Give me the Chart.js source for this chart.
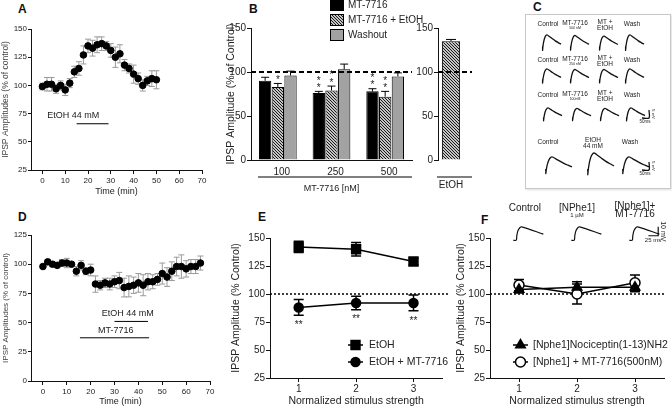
<!DOCTYPE html>
<html>
<head>
<meta charset="utf-8">
<script src="https://cdn.jsdelivr.net/npm/chart.js@4.4.1/dist/chart.umd.min.js"></script>
<style>
  body { margin: 0; width: 672px; height: 412px; position: relative; overflow: hidden; background: #fff;
         font-family: "Liberation Sans", Arial, sans-serif; }
  canvas { position: absolute; }
  .lt { position: absolute; font-weight: bold; font-size: 12px; color: #111; line-height: 12px; }
  #boxC { position: absolute; left: 525px; top: 14px; width: 144px; height: 173px;
          border: 1px solid #c8c8c8; box-shadow: 1px 1px 2px #ddd; }
</style>
</head>
<body>
<div class="lt" style="left:18px;top:3px">A</div>
<div class="lt" style="left:249px;top:3px">B</div>
<div class="lt" style="left:533px;top:1px">C</div>
<div class="lt" style="left:18px;top:211px">D</div>
<div class="lt" style="left:258px;top:211px">E</div>
<div class="lt" style="left:481px;top:214px">F</div>
<div id="boxC"></div>
<script>
// ---- A: EtOH 44 mM alone (time course)
const timeA = [0,2,4,6,8,10,12,14,16,18,20,22,24,26,28,30,32,34,36,38,40,42,44,46,48,50];
const ipspA = [99,101,101,97,100,96,102,112,115,127,135,133,136,137,135,131,125,128,118,115,110,106,100,104,106,105];
const semA  = [3,6,6,4,4,5,4,5,6,8,6,7,7,6,4,6,9,8,5,4,8,5,5,4,7,8];
const etohA = [15, 29];

// ---- B: MT-7716 concentrations
const concB = ['100', '250', '500'];
const mtB = [90, 76, 78];         const mtSemB = [4, 2, 3];
const mtEtohB = [83, 79, 72];     const mtEtohSemB = [4, 5, 6];
const washB = [96, 103, 95];      const washSemB = [5, 6, 4];
const starsMtB = [0, 2, 2];
const starsMtEtohB = [1, 2, 2];
const etohB = [135];              const etohSemB = [2];

// ---- D: MT-7716 then EtOH (time course)
const timeD = [0,2,4,6,8,10,12,14,16,18,20,22,24,26,28,30,32,34,36,38,40,42,44,46,48,50,52,54,56,58,60,62,64,66];
const ipspD = [98,102,100,99,101,101,100,94,99,94,95,83,82,84,83,85,86,80,81,82,84,82,85,85,87,92,89,94,98,98,96,98,98,101];
const semD  = [1,2,2,2,3,4,1,4,4,3,5,7,4,4,5,5,7,8,9,7,8,9,7,6,5,9,8,8,8,10,7,6,6,6];
const mtD = [15.5, 44.5];
const etohD = [30, 44];

// ---- E: stimulus strength
const stim = [1, 2, 3];
const etohE = [142, 140, 129];    const etohSemE = [5, 6, 3];
const etohMtE = [88, 92, 92];     const etohMtSemE = [7, 6, 7];

// ---- F: [Nphe1] controls
const nphe1F = [104, 106, 106];   const nphe1SemF = [3, 5, 4];
const nphe1MtF = [108, 100, 110]; const nphe1MtSemF = [5, 9, 7];

// ---- example IPSP trace shapes (normalised time, normalised amplitude)
const traceC = [[0,0],[0.03,0],[0.03,-0.28],[0.05,0.05],[0.09,0.45],[0.15,0.8],[0.22,0.98],[0.28,1],[0.4,0.86],[0.55,0.68],[0.7,0.51],[0.85,0.37],[1,0.24]];
const traceF = [[0,0],[0.1,0],[0.12,0.35],[0.16,0.72],[0.22,0.93],[0.28,1],[1,0.45]];
const ampC = [[1,0.95,0.9,1],[1,0.95,0.95,1],[1,0.95,0.95,1],[1,1.3,1]];

Chart.defaults.font.family = '"Liberation Sans", Arial, sans-serif';
Chart.defaults.color = '#222';
Chart.defaults.animation = false;
Chart.defaults.plugins.legend.display = false;
Chart.defaults.plugins.tooltip.enabled = false;

function mk(left, top, w, h) {
  const c = document.createElement('canvas');
  c.width = w; c.height = h;
  c.style.left = left + 'px'; c.style.top = top + 'px';
  c.style.width = w + 'px'; c.style.height = h + 'px';
  document.body.appendChild(c);
  return c.getContext('2d');
}

function linAxis(o) {
  return {
    type: 'linear', min: o.min, max: o.max,
    afterBuildTicks: s => { s.ticks = o.ticks.map(v => ({ value: v })); },
    afterFit: s => { if (s.isHorizontal()) s.height = o.size; else s.width = o.size; },
    border: { color: '#111', width: 1 },
    grid: { drawOnChartArea: false, tickLength: o.tick ?? 4, tickColor: '#111' },
    ticks: { font: { size: o.fs }, color: '#222', padding: o.pad ?? 2, maxRotation: 0, autoSkip: false },
    title: o.title ? { display: true, text: o.title, font: { size: o.tfs }, color: o.tcol || '#222',
                       padding: { top: o.tpad, bottom: o.tpad } } : { display: false }
  };
}

const errorBars = {
  id: 'errorBars',
  beforeDatasetsDraw(chart) {
    const ctx = chart.ctx;
    chart.data.datasets.forEach((ds, i) => {
      if (!ds.errors) return;
      const meta = chart.getDatasetMeta(i);
      const ys = chart.scales[meta.yAxisID];
      ctx.save();
      ctx.strokeStyle = ds.errorColor || '#000';
      ctx.lineWidth = ds.errorWidth || 1;
      meta.data.forEach((el, j) => {
        const raw = ds.data[j];
        const v = typeof raw === 'object' ? raw.y : raw;
        const e = ds.errors[j];
        const yt = ys.getPixelForValue(v + e);
        const yb = ys.getPixelForValue(ds.errorUpOnly ? v : v - e);
        const c = (ds.capWidth || 6) / 2;
        ctx.beginPath();
        ctx.moveTo(el.x, yt); ctx.lineTo(el.x, yb);
        ctx.moveTo(el.x - c, yt); ctx.lineTo(el.x + c, yt);
        if (!ds.errorUpOnly) { ctx.moveTo(el.x - c, yb); ctx.lineTo(el.x + c, yb); }
        ctx.stroke();
      });
      ctx.restore();
    });
  }
};

function hline(ctx, x0, x1, y, dash, w) {
  ctx.save();
  ctx.strokeStyle = '#000'; ctx.lineWidth = w; ctx.setLineDash(dash);
  ctx.beginPath(); ctx.moveTo(x0, y); ctx.lineTo(x1, y); ctx.stroke();
  ctx.restore();
}
function text(ctx, s, x, y, size, align, rot) {
  ctx.save();
  ctx.fillStyle = '#222';
  ctx.font = size + 'px "Liberation Sans", Arial, sans-serif';
  ctx.textAlign = align || 'center'; ctx.textBaseline = 'middle';
  ctx.translate(x, y);
  if (rot) ctx.rotate(rot);
  ctx.fillText(s, 0, 0);
  ctx.restore();
}
const xy = (xs, ys) => xs.map((x, i) => ({ x: x, y: ys[i] }));

// ================= A =================
new Chart(mk(0, 0, 215, 200), {
  type: 'scatter',
  data: { datasets: [{
    data: xy(timeA, ipspA), errors: semA, errorColor: '#9a9a9a', capWidth: 6,
    pointRadius: 3.3, backgroundColor: '#000', borderColor: '#000'
  }] },
  options: {
    responsive: false, devicePixelRatio: 1,
    layout: { padding: { top: 29, right: 13, left: 0, bottom: 0 } },
    scales: {
      x: linAxis({ min: -5, max: 70, ticks: [0,10,20,30,40,50,60,70], size: 30, fs: 8, pad: 2,
                   title: 'Time (min)', tfs: 9, tpad: 3 }),
      y: linAxis({ min: 25, max: 150, ticks: [25,50,75,100,125,150], size: 31, fs: 8, pad: 1, tick: 3,
                   title: 'IPSP Amplitudes (% of control)', tfs: 8.5, tpad: 1, tcol: '#444' })
    }
  },
  plugins: [errorBars, {
    id: 'annA',
    afterDraw(c) {
      const x = c.scales.x, y = c.scales.y;
      hline(c.ctx, x.getPixelForValue(etohA[0]), x.getPixelForValue(etohA[1]), y.getPixelForValue(66), [], 1);
      text(c.ctx, 'EtOH 44 mM', x.getPixelForValue(13.5), y.getPixelForValue(73), 9);
    }
  }]
});

// ================= B (MT-7716) =================
const hatch = (() => {
  const p = document.createElement('canvas'); p.width = 3; p.height = 3;
  const g = p.getContext('2d');
  g.fillStyle = '#c4c4c4'; g.fillRect(0, 0, 3, 3);
  g.fillStyle = '#1a1a1a';
  g.fillRect(0, 0, 1, 1); g.fillRect(1, 1, 1, 1); g.fillRect(2, 2, 1, 1);
  return g.createPattern(p, 'repeat');
})();

function stars(c, dsIndex, counts) {
  const meta = c.getDatasetMeta(dsIndex), ds = c.data.datasets[dsIndex], y = c.scales.y;
  meta.data.forEach((el, j) => {
    const top = y.getPixelForValue(ds.data[j] + ds.errors[j]);
    for (let k = 0; k < counts[j]; k++) text(c.ctx, '*', el.x, top - 3 - k * 7.5, 10);
  });
}

new Chart(mk(215, 0, 210, 200), {
  type: 'bar',
  data: {
    labels: concB,
    datasets: [
      { label: 'MT-7716', data: mtB, errors: mtSemB, errorUpOnly: true, capWidth: 8,
        backgroundColor: '#000', borderColor: '#000', borderWidth: 1 },
      { label: 'MT-7716 + EtOH', data: mtEtohB, errors: mtEtohSemB, errorUpOnly: true, capWidth: 8,
        backgroundColor: hatch, borderColor: '#000', borderWidth: 1 },
      { label: 'Washout', data: washB, errors: washSemB, errorUpOnly: true, capWidth: 8,
        backgroundColor: '#a2a2a2', borderColor: '#000', borderWidth: 1 }
    ]
  },
  options: {
    responsive: false, devicePixelRatio: 1,
    categoryPercentage: 0.71, barPercentage: 0.97,
    layout: { padding: { top: 28, right: 13, left: 0, bottom: 0 } },
    scales: {
      x: { type: 'category',
           afterFit: s => { s.height = 40; },
           border: { display: true, color: '#111' }, grid: { display: false, drawTicks: false },
           ticks: { font: { size: 10 }, color: '#222', padding: 6, labelOffset: 4 },
           title: { display: true, text: 'MT-7716 [nM]', font: { size: 9 }, color: '#222', padding: { top: 6, bottom: 6 } } },
      y: linAxis({ min: 0, max: 150, ticks: [0,50,100,150], size: 36, fs: 10, pad: 1, tick: 4,
                   title: 'IPSP Amplitude (% of Control)', tfs: 10.5, tpad: 10 })
    }
  },
  plugins: [errorBars, {
    id: 'annB',
    afterDraw(c) {
      const a = c.chartArea, y = c.scales.y, ctx = c.ctx;
      hline(ctx, a.left, a.right, y.getPixelForValue(100), [5, 3], 2);
      hline(ctx, 43, 197, 177, [], 1);
      stars(c, 0, starsMtB);
      stars(c, 1, starsMtEtohB);
      c.data.datasets.forEach((ds, i) => {
        const ty = 5 + i * 15;
        ctx.save();
        ctx.fillStyle = ds.backgroundColor; ctx.strokeStyle = '#000'; ctx.lineWidth = 1;
        ctx.fillRect(115.5, ty - 5.5, 13, 11); ctx.strokeRect(115.5, ty - 5.5, 13, 11);
        ctx.restore();
        text(ctx, ds.label, 133, ty, 10, 'left');
      });
    }
  }]
});

// ================= B (EtOH) =================
new Chart(mk(410, 0, 70, 200), {
  type: 'bar',
  data: { labels: ['EtOH'], datasets: [
    { data: etohB, errors: etohSemB, errorUpOnly: true, capWidth: 10,
      backgroundColor: hatch, borderColor: '#000', borderWidth: 1 }
  ] },
  options: {
    responsive: false, devicePixelRatio: 1,
    categoryPercentage: 1, barPercentage: 0.7,
    layout: { padding: { top: 28, right: 16, left: 0, bottom: 0 } },
    scales: {
      x: { type: 'category', afterFit: s => { s.height = 40; },
           border: { display: false }, grid: { display: false, drawTicks: false },
           ticks: { display: false },
           title: { display: true, text: 'EtOH', font: { size: 10 }, color: '#222', padding: { top: 0, bottom: 9 } } },
      y: linAxis({ min: 0, max: 150, ticks: [0,50,100,150], size: 28, fs: 10, pad: 1, tick: 4 })
    }
  },
  plugins: [errorBars, {
    id: 'annB2',
    afterDraw(c) {
      const a = c.chartArea;
      hline(c.ctx, a.left, a.right + 8, c.scales.y.getPixelForValue(100), [5, 3], 2);
      hline(c.ctx, a.left - 1, a.right + 8, 177, [], 1);
    }
  }]
});

// ================= C (example traces) =================
const cRows = [
  { ly: 9,   base: 32,  h: 12, w: 19, xs: [16, 44, 73, 99], lx: [22, 49, 79, 106],
    labels: [['Control'], ['MT-7716', '500 nM'], ['MT +', 'EtOH'], ['Wash']] },
  { ly: 45,  base: 65,  h: 11, w: 19, xs: [16, 44, 73, 99], lx: [22, 49, 79, 106],
    labels: [['Control'], ['MT-7716', '250 nM'], ['MT +', 'EtOH'], ['Wash']] },
  { ly: 80,  base: 103, h: 10, w: 19, xs: [17, 46, 74, 100], lx: [22, 49, 79, 106],
    labels: [['Control'], ['MT-7716', '100nM'], ['MT +', 'EtOH'], ['Wash']], bar: { x: 123, y: 103, h: 8, w: 7 } },
  { ly: 127, base: 155, h: 13, w: 27, xs: [19, 61, 96], lx: [22, 67, 104],
    labels: [['Control'], ['EtOH', '44 mM'], ['Wash']], bar: { x: 123, y: 155, h: 8, w: 7 } }
];
const cSets = [];
cRows.forEach((r, ri) => {
  r.xs.forEach((x0, k) => {
    cSets.push({ data: traceC.map(([t, v]) => ({ x: x0 + t * r.w, y: r.base - v * r.h * ampC[ri][k] })) });
  });
  if (r.bar) cSets.push({ data: [{ x: r.bar.x, y: r.bar.y - r.bar.h }, { x: r.bar.x, y: r.bar.y }, { x: r.bar.x - r.bar.w, y: r.bar.y }] });
});
new Chart(mk(526, 15, 144, 173), {
  type: 'scatter',
  data: { datasets: cSets.map(d => Object.assign(d, { showLine: true, pointRadius: 0, borderColor: '#111', borderWidth: 1.3, tension: 0.3 })) },
  options: {
    responsive: false, devicePixelRatio: 1,
    layout: { padding: 0 },
    scales: { x: { display: false, min: 0, max: 144 }, y: { display: false, min: 0, max: 173, reverse: true } }
  },
  plugins: [{
    id: 'annC',
    afterDraw(c) {
      const ctx = c.ctx, X = v => c.scales.x.getPixelForValue(v), Y = v => c.scales.y.getPixelForValue(v);
      cRows.forEach(r => {
        r.labels.forEach((lab, k) => {
          if (lab.length === 1) text(ctx, lab[0], X(r.lx[k]), Y(r.ly), 6.5);
          else if (lab[0].startsWith('MT-')) { text(ctx, lab[0], X(r.lx[k]), Y(r.ly - 1), 6.5); text(ctx, lab[1], X(r.lx[k]), Y(r.ly + 4.5), 3.5); }
          else { text(ctx, lab[0], X(r.lx[k]), Y(r.ly - 2), 6.5); text(ctx, lab[1], X(r.lx[k]), Y(r.ly + 4.5), 6.5); }
        });
        if (r.bar) {
          text(ctx, '50ms', X(r.bar.x - 4), Y(r.bar.y + 4), 4.5);
          text(ctx, '5 mV', X(r.bar.x + 4), Y(r.bar.y - 4), 4, 'center', Math.PI / 2);
        }
      });
    }
  }]
});

// ================= D =================
new Chart(mk(0, 200, 225, 212), {
  type: 'scatter',
  data: { datasets: [{
    data: xy(timeD, ipspD), errors: semD, errorColor: '#9a9a9a', capWidth: 6,
    pointRadius: 3.3, backgroundColor: '#000', borderColor: '#000'
  }] },
  options: {
    responsive: false, devicePixelRatio: 1,
    layout: { padding: { top: 35, right: 15, left: 0, bottom: 0 } },
    scales: {
      x: linAxis({ min: -5, max: 70, ticks: [0,10,20,30,40,50,60,70], size: 31, fs: 8, pad: 2,
                   title: 'Time (min)', tfs: 9, tpad: 5 }),
      y: linAxis({ min: 0, max: 125, ticks: [0,25,50,75,100,125], size: 31, fs: 8, pad: 1, tick: 3,
                   title: 'IPSP Amplitudes (% of control)', tfs: 8, tpad: 1, tcol: '#444' })
    }
  },
  plugins: [errorBars, {
    id: 'annD',
    afterDraw(c) {
      const x = c.scales.x, y = c.scales.y;
      hline(c.ctx, x.getPixelForValue(etohD[0]), x.getPixelForValue(etohD[1]), y.getPixelForValue(51), [], 1);
      text(c.ctx, 'EtOH 44 mM', x.getPixelForValue(35.5), y.getPixelForValue(57.5), 9);
      hline(c.ctx, x.getPixelForValue(mtD[0]), x.getPixelForValue(mtD[1]), y.getPixelForValue(37), [], 1);
      text(c.ctx, 'MT-7716', x.getPixelForValue(30.5), y.getPixelForValue(43.5), 9);
    }
  }]
});

// ================= E / F =================
function legendItems(c, items, x0, x1, tx, ys) {
  const ctx = c.ctx;
  items.forEach((ds, i) => {
    ctx.save();
    ctx.strokeStyle = '#000'; ctx.lineWidth = 1.5;
    ctx.beginPath(); ctx.moveTo(x0, ys[i]); ctx.lineTo(x1, ys[i]); ctx.stroke();
    ctx.fillStyle = ds.backgroundColor; ctx.lineWidth = ds.borderWidth || 1.5;
    Chart.helpers.drawPoint(ctx, { pointStyle: ds.pointStyle, radius: ds.pointRadius, borderWidth: ds.borderWidth || 1.5, rotation: 0 }, (x0 + x1) / 2, ys[i]);
    ctx.restore();
    text(ctx, ds.label, tx, ys[i], 10.5, 'left');
  });
}
function stimAxes(yWidth) {
  return {
    x: linAxis({ min: 0.5, max: 3.5, ticks: [1,2,3], size: 34, fs: 10, pad: 1, tick: 4,
                 title: 'Normalized stimulus strength', tfs: 10.5, tpad: 5 }),
    y: linAxis({ min: 25, max: 150, ticks: [25,50,75,100,125,150], fs: 10, pad: 1, tick: 4,
                 title: 'IPSP Amplitude (% Control)', tfs: 10.5, tpad: 5, size: yWidth })
  };
}

new Chart(mk(225, 200, 225, 212), {
  type: 'scatter',
  data: { datasets: [
    { label: 'EtOH', data: xy(stim, etohE), errors: etohSemE, capWidth: 10, errorWidth: 1.5,
      showLine: true, borderColor: '#000', backgroundColor: '#000', borderWidth: 1.5, pointStyle: 'rect', pointRadius: 6.3 },
    { label: 'EtOH + MT-7716', data: xy(stim, etohMtE), errors: etohMtSemE, capWidth: 10, errorWidth: 1.5,
      showLine: true, borderColor: '#000', backgroundColor: '#000', borderWidth: 1.5, pointStyle: 'circle', pointRadius: 4.5 }
  ] },
  options: {
    responsive: false, devicePixelRatio: 1,
    layout: { padding: { top: 38, right: 7, left: 0, bottom: 0 } },
    scales: stimAxes(45)
  },
  plugins: [errorBars, {
    id: 'annE',
    beforeDatasetsDraw(c) {
      hline(c.ctx, c.chartArea.left, c.chartArea.right + 9, c.scales.y.getPixelForValue(100), [2, 2], 1.3);
    },
    afterDraw(c) {
      const x = c.scales.x, y = c.scales.y;
      stim.forEach((s, j) => text(c.ctx, '**', x.getPixelForValue(s), y.getPixelForValue(etohMtE[j] - etohMtSemE[j]) + 10, 10));
      legendItems(c, c.data.datasets, 123, 138, 144, [145, 162]);
    }
  }]
});

const fTraceSets = stim.map(s => ({
  data: traceF.map(([t, v]) => ({ x: s - 0.1 + t * 0.52, y: 148 + v * 12 })),
  showLine: true, pointRadius: 0, borderColor: '#111', borderWidth: 1.2, tension: 0.3, clip: false
}));
fTraceSets.push({ data: [{ x: 3.4, y: 160 }, { x: 3.4, y: 152 }, { x: 3.23, y: 152 }],
  showLine: true, pointRadius: 0, borderColor: '#111', borderWidth: 1.2, clip: false });
new Chart(mk(450, 200, 222, 212), {
  type: 'scatter',
  data: { datasets: [
    { label: '[Nphe1]Nociceptin(1-13)NH2', data: xy(stim, nphe1F), errors: nphe1SemF, capWidth: 10, errorWidth: 1.5,
      showLine: true, borderColor: '#000', backgroundColor: '#000', borderWidth: 1.5, pointStyle: 'triangle', pointRadius: 5.5 },
    { label: '[Nphe1] + MT-7716(500nM)', data: xy(stim, nphe1MtF), errors: nphe1MtSemF, capWidth: 10, errorWidth: 1.5,
      showLine: true, borderColor: '#000', backgroundColor: '#fff', borderWidth: 1.5, pointStyle: 'circle', pointRadius: 5 }
  ].concat(fTraceSets) },
  options: {
    responsive: false, devicePixelRatio: 1,
    layout: { padding: { top: 38, right: 8, left: 0, bottom: 0 } },
    scales: stimAxes(40)
  },
  plugins: [errorBars, {
    id: 'annF',
    beforeDatasetsDraw(c) {
      hline(c.ctx, c.chartArea.left, c.chartArea.right, c.scales.y.getPixelForValue(100), [2, 2], 1.3);
    },
    afterDraw(c) {
      const x = c.scales.x, y = c.scales.y, ctx = c.ctx;
      legendItems(c, c.data.datasets.slice(0, 2), 63, 78, 83, [145, 162]);
      text(ctx, 'Control', x.getPixelForValue(1.1), y.getPixelForValue(177), 10);
      text(ctx, '[NPhe1]', x.getPixelForValue(2.0), y.getPixelForValue(177), 10);
      text(ctx, '1 µM', x.getPixelForValue(2.0), y.getPixelForValue(170.5), 6);
      text(ctx, '[Nphe1]+', x.getPixelForValue(3.0), y.getPixelForValue(178), 10);
      text(ctx, 'MT-7716', x.getPixelForValue(3.0), y.getPixelForValue(171), 10);
      text(ctx, '25 ms', x.getPixelForValue(3.31), y.getPixelForValue(148), 6);
      text(ctx, '10 mV', x.getPixelForValue(3.49), y.getPixelForValue(156), 7, 'center', Math.PI / 2);
    }
  }]
});
</script>
</body>
</html>
